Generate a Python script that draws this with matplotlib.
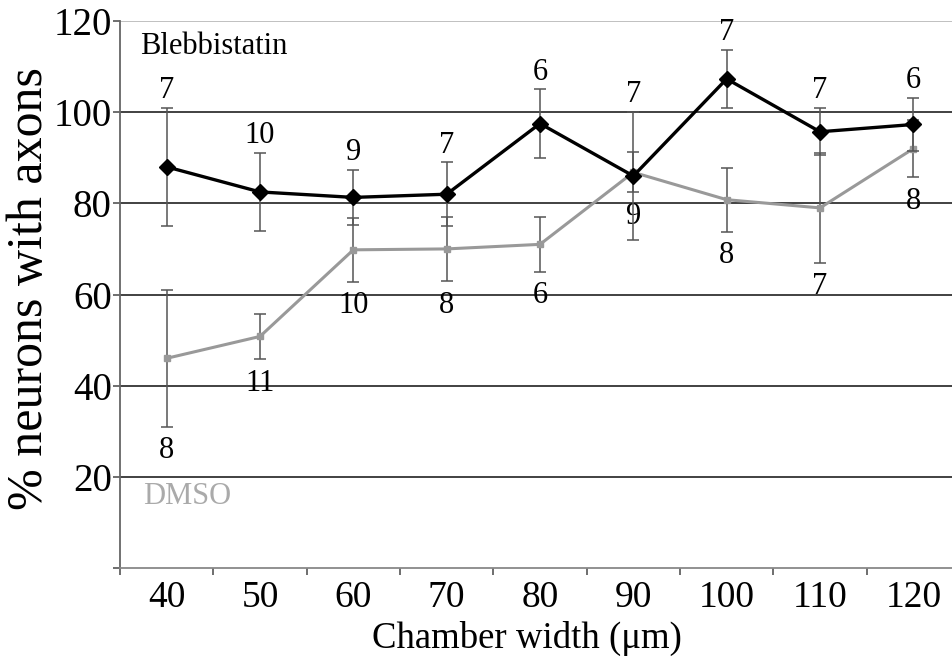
import matplotlib
matplotlib.use("Agg")
import matplotlib.pyplot as plt
import numpy as np

plt.rcParams['font.family'] = ['Liberation Serif', 'DejaVu Serif']

widths = ["40", "50", "60", "70", "80", "90", "100", "110", "120"]
bleb_mean = [88, 82.5, 81.3, 82, 97.5, 86, 107.3, 95.7, 97.3]
bleb_err = [13, 8.5, 6, 7, 7.5, 14, 6.3, 5.2, 5.8]
bleb_n = [7, 10, 9, 7, 6, 7, 7, 7, 6]
dmso_mean = [46, 50.8, 69.8, 70, 71, 86.8, 80.8, 79, 92]
dmso_err = [15, 5, 7, 7, 6, 4.4, 7, 12, 6.2]
dmso_n = [8, 11, 10, 8, 6, 9, 8, 7, 8]
yticks = [0, 20, 40, 60, 80, 100, 120]

fig = plt.figure(figsize=(9.53, 6.63), dpi=100)
ax = fig.add_axes([120/953, 95/663, 840/953, 547/663])

x = np.arange(len(widths))

ax.set_xlim(-0.5, len(widths) - 0.5)
ax.set_ylim(0, 120)

# grid
ax.set_yticks(yticks)
ax.set_yticklabels(["" if v == 0 else str(v) for v in yticks], fontsize=28)
ax.yaxis.grid(True, color='#333333', lw=1.3)
gl = ax.yaxis.get_gridlines()
gl[0].set_visible(False)
gl[-1].set_color('#bbbbbb')
ax.set_axisbelow(True)

# x ticks: marks at boundaries, labels at categories
ax.set_xticks(np.arange(-0.5, len(widths), 1.0))
ax.set_xticklabels([])
ax.set_xticks(x, minor=True)
ax.set_xticklabels(widths, minor=True, fontsize=27)
ax.tick_params(axis='x', which='minor', length=0, pad=9)
ax.tick_params(axis='x', which='major', length=5, width=1.2, color='#555555')
ax.tick_params(axis='y', length=5, width=1.2, color='#555555', pad=1)

for s in ['top', 'right']:
    ax.spines[s].set_visible(False)
ax.spines['left'].set_color('#666666')
ax.spines['left'].set_linewidth(1.3)
ax.spines['bottom'].set_color('#888888')
ax.spines['bottom'].set_linewidth(1.3)

# DMSO series
ax.errorbar(x, dmso_mean, yerr=dmso_err, color='#999999', lw=2.2,
            marker='s', ms=5, mfc='#999999', mec='#999999',
            ecolor='#555555', elinewidth=1.1, capsize=4, capthick=1.1, zorder=3)
# Blebbistatin series
ax.errorbar(x, bleb_mean, yerr=bleb_err, color='black', lw=2.4,
            marker='D', ms=8, mfc='black', mec='black',
            ecolor='#555555', elinewidth=1.1, capsize=4, capthick=1.1, zorder=4)

for xi, m, e, n in zip(x, bleb_mean, bleb_err, bleb_n):
    ax.annotate(str(n), (xi, m + e), xytext=(0, 7), textcoords='offset points',
                ha='center', va='baseline', fontsize=22, color='black')
for xi, m, e, n in zip(x, dmso_mean, dmso_err, dmso_n):
    ax.annotate(str(n), (xi, m - e), xytext=(0, -7), textcoords='offset points',
                ha='center', va='top', fontsize=22, color='black')

fig.text(140/953, 1 - 46/663, "Blebbistatin", fontsize=22,
         ha='left', va='center', color='black')
fig.text(143/953, 1 - 497/663, "DMSO", fontsize=22,
         ha='left', va='center', color='#aaaaaa')

fig.text(30/953, 1 - 289/663, "% neurons with axons", rotation=90,
         ha='center', va='center', fontsize=36)
fig.text(527/953, 1 - 638/663, "Chamber width (\u03bcm)", ha='center', va='center',
         fontsize=26.5)

fig.savefig("out.png", dpi=100)
